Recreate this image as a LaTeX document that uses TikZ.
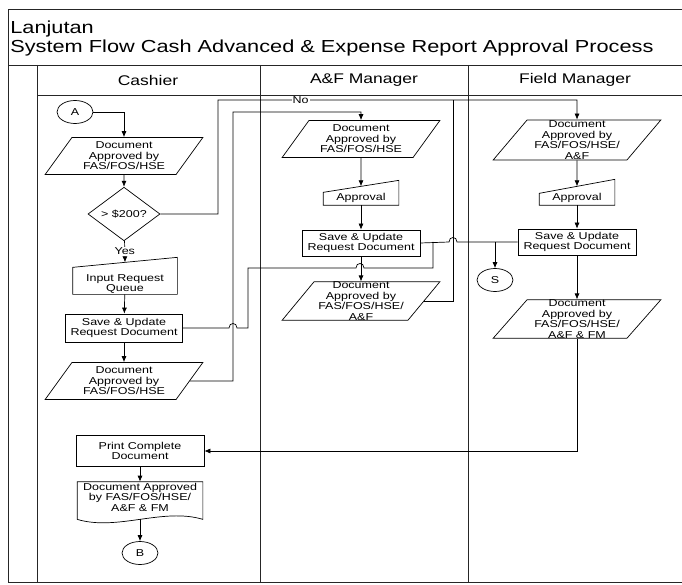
\documentclass[tikz,border=0pt]{standalone}
\usepackage{fontspec}
\setmainfont{Liberation Sans}[FakeStretch=1.25]
\usetikzlibrary{shapes.geometric,arrows.meta}

\begin{document}
\begin{tikzpicture}[x=1pt, y=-1pt, line width=0.7pt,
		>={Latex[length=6pt,width=5pt]},
		every node/.style={font=\fontsize{10}{10.5}\selectfont, align=center, inner sep=0pt},
		docbox/.style={trapezium, trapezium left angle=53, trapezium right angle=127,
		trapezium stretches=true, draw, minimum width=158, minimum height=37},
		procbox/.style={rectangle, draw, minimum width=118, minimum height=27},
		decision/.style={diamond, draw, minimum width=72, minimum height=36},
		connector/.style={ellipse, draw, minimum width=36, minimum height=23},
		manualbox/.style={rectangle, minimum width=75, minimum height=14},
		flowlabel/.style={fill=white, inner sep=1pt},
		lane/.style={draw=black!85, line width=0.8pt},
		lanehead/.style={font=\fontsize{14}{16}\selectfont},
		titletext/.style={anchor=base west, font=\fontsize{17.4}{19}\selectfont}
		]
		
		\useasboundingbox (0,0) rectangle (682,585);
		\draw[lane] (682,9) -- (8,9) -- (8,582) -- (682,582);
		\draw[lane] (8,65) -- (682,65);
		\draw[lane] (37,95) -- (682,95);
		\draw[lane] (37,65) -- (37,582);
		\draw[lane] (260,65) -- (260,582);
		\draw[lane] (468,65) -- (468,582);
		
		\node[titletext](T0) at (10,34){Lanjutan};
		\node[titletext](T1) at (10,53){System Flow Cash Advanced \& Expense Report Approval Process};
		\node[lanehead](H1) at (148,80){Cashier};
		\node[lanehead](H2) at (364,80){A\&F Manager};
		\node[lanehead](H3) at (575,80){Field Manager};
		
		\node[connector](A) at (75,112){A};
		\node[docbox](C1) at (124,156){Document\\Approved by\\FAS/FOS/HSE};
		\node[decision](C2) at (124,214){> \$200?};
		\node[manualbox, minimum width=104, minimum height=20](C3) at (125,284){Input Request\\Queue};
		\draw (C3.south west) -- (C3.south east) -- ([yshift=37pt]C3.south east)
		-- ([yshift=27pt]C3.south west) -- cycle;
		\node[procbox, minimum width=117, minimum height=28](C4) at (124,328){Save \& Update\\Request Document};
		\node[docbox](C5) at (124,381){Document\\Approved by\\FAS/FOS/HSE};
		\node[procbox, minimum width=128, minimum height=31](C6) at (140,451){Print Complete\\Document};
		\node[minimum width=125, minimum height=30](C7) at (140,497){Document Approved\\by FAS/FOS/HSE/\\A\&F \& FM};
		\draw (C7.north west) -- (C7.north east) -- ([yshift=-7pt]C7.south east)
		.. controls +(-40,-12) and +(40,12) .. ([yshift=-7pt]C7.south west) -- cycle;
		\node[connector](B) at (140,553){B};
		
		\node[docbox](A1) at (361,139){Document\\Approved by\\FAS/FOS/HSE};
		\node[manualbox](A2) at (361,198){Approval};
		\draw (A2.south west) -- (A2.south east) -- ([yshift=25pt]A2.south east)
		-- ([yshift=13pt]A2.south west) -- cycle;
		\node[procbox, minimum height=26](A3) at (361,243){Save \& Update\\Request Document};
		\node[docbox](A4) at (361,301){Document\\Approved by\\FAS/FOS/HSE/\\A\&F};
		
		\node[docbox, minimum width=168, minimum height=40](F1) at (577,140){Document\\Approved by\\FAS/FOS/HSE/\\A\&F};
		\node[manualbox](F2) at (577,198){Approval};
		\draw (F2.south west) -- (F2.south east) -- ([yshift=26pt]F2.south east)
		-- ([yshift=12pt]F2.south west) -- cycle;
		\node[procbox, minimum height=26](F3) at (577,242){Save \& Update\\Request Document};
		\node[docbox, minimum width=168, minimum height=38](F4) at (577,319){Document\\Approved by\\FAS/FOS/HSE/\\A\&F \& FM};
		\node[connector](S) at (495,280){S};
		\coordinate (J1) at (495,242);
		
		\draw[->] (A) -| (C1);
		\draw[->] (C1) -- (C2);
		\draw[->] (C2) -- node[flowlabel]{Yes} ([yshift=32pt]C3.south);
		\draw[->] (C3) -- (C4);
		\draw[->] (C4) -- (C5);
		\draw[->] (C2.east) -- (218,214) -- (218,100) -- node[flowlabel, pos=0.23]{No} (577,100) -- (F1.north);
		\draw[->] (C5.east) -- (233,381) -- (233,112) -| (A1.north);
		\draw (C4.east) -- (229,328) .. controls (229,322) and (237,322) .. (237,328) -- (248,328)
		-- (248,268) -- (356,268) .. controls (356,262) and (364,262) .. (364,268) -- (433,268) -- (433,242);
		
		\draw[->] (A1) -- ([yshift=19pt]A2.south);
		\draw[->] (A2) -- (A3);
		\draw[->] (A3) -- (A4);
		\draw (A3.east) -- (449,242) .. controls (449,236) and (457,236) .. (457,242) -- (F3.west);
		\draw (A4.east) -| (453,100);
		\draw[->] (J1) -- (S);
		
		\draw[->] (F1) -- ([yshift=19pt]F2.south);
		\draw[->] (F2) -- (F3);
		\draw[->] (F3) -- (F4);
		\draw[->] (F4.south) |- (C6.east);
		\draw[->] (C6) -- (C7);
		\draw[->] ([yshift=-7pt]C7.south) -- (B);
	\end{tikzpicture}
\end{document}
